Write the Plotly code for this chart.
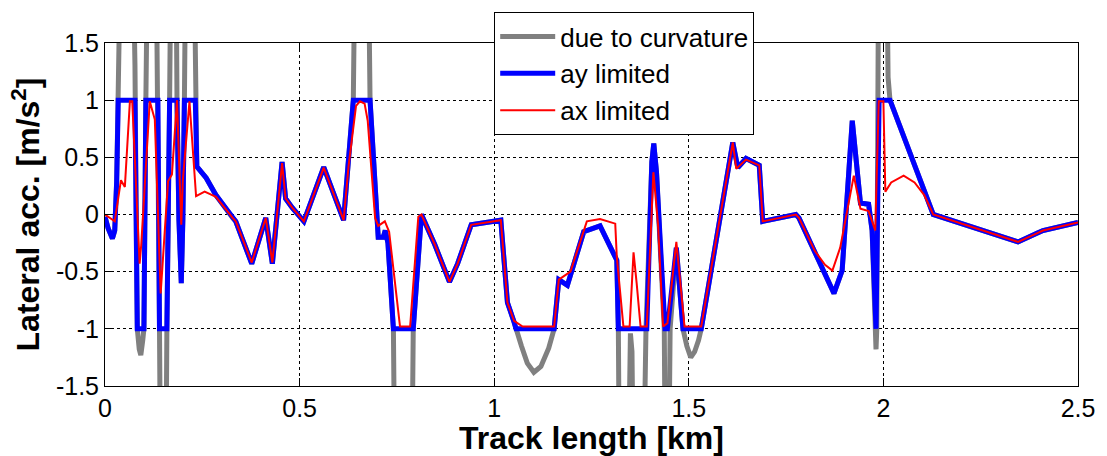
import plotly.graph_objects as go

# Lateral acceleration along the track: (track position [km], lateral acc. [m/s^2])
due_to_curvature = [
    (0.000, -0.02), (0.008, -0.12), (0.019, -0.21), (0.025, -0.14), (0.030, 0.29), (0.034, 1.00),
    (0.037, 1.45), (0.041, 2.50), (0.071, 2.50), (0.077, 1.30), (0.081, -0.37), (0.083, -1.00),
    (0.088, -1.18), (0.092, -1.23), (0.097, -1.10), (0.100, -1.00), (0.105, 1.00), (0.110, 2.50),
    (0.131, 2.50), (0.136, 1.00), (0.140, -1.00), (0.143, -2.50), (0.156, -2.50), (0.159, -1.00),
    (0.161, -0.05), (0.166, 1.00), (0.170, 2.50), (0.182, 2.50), (0.185, 1.00), (0.190, -0.05),
    (0.196, -0.60), (0.200, -0.05), (0.204, 1.00), (0.208, 2.50), (0.228, 2.50), (0.232, 1.00),
    (0.236, 0.42), (0.260, 0.32), (0.285, 0.17), (0.328, -0.03), (0.336, -0.06), (0.377, -0.43),
    (0.413, -0.03), (0.430, -0.43), (0.455, 0.46), (0.464, 0.14), (0.481, 0.06), (0.511, -0.06),
    (0.562, 0.415), (0.613, -0.05), (0.638, 1.00), (0.643, 2.50), (0.676, 2.50), (0.681, 1.00),
    (0.698, -0.08), (0.702, -0.20), (0.715, -0.20), (0.720, -0.14), (0.727, -0.25), (0.741, -1.00),
    (0.745, -2.50), (0.788, -2.50), (0.792, -1.00), (0.813, 0.00), (0.847, -0.26), (0.885, -0.59),
    (0.906, -0.43), (0.941, -0.09), (1.017, -0.05), (1.034, -0.77), (1.051, -0.94), (1.056, -1.00),
    (1.070, -1.15), (1.085, -1.30), (1.102, -1.38), (1.120, -1.33), (1.140, -1.17), (1.154, -1.00),
    (1.166, -0.57), (1.188, -0.62), (1.230, -0.15), (1.272, -0.10), (1.315, -0.40), (1.319, -1.00),
    (1.322, -2.50), (1.344, -2.50), (1.350, -1.04), (1.354, -1.20), (1.358, -2.50), (1.383, -2.50),
    (1.390, -1.00), (1.405, 0.46), (1.410, 0.62), (1.417, 0.37), (1.437, -1.00), (1.440, -2.50),
    (1.448, -2.50), (1.452, -1.00), (1.468, -0.29), (1.485, -1.00), (1.495, -1.15), (1.505, -1.25),
    (1.515, -1.20), (1.525, -1.10), (1.532, -1.00), (1.613, 0.63), (1.626, 0.41), (1.647, 0.49),
    (1.681, 0.43), (1.690, -0.06), (1.775, 0.00), (1.783, -0.03), (1.824, -0.33), (1.873, -0.69),
    (1.894, -0.49), (1.920, 0.82), (1.941, 0.10), (1.962, 0.09), (1.971, -0.14), (1.979, -1.00),
    (1.981, -1.18), (1.983, -1.00), (1.986, 1.00), (1.988, 2.50), (2.008, 2.50), (2.012, 1.20),
    (2.017, 1.00), (2.128, 0.00), (2.346, -0.24), (2.397, -0.16), (2.410, -0.14), (2.500, -0.07),
]

ay_limited = [
    (0.000, -0.02), (0.008, -0.12), (0.019, -0.21), (0.025, -0.14), (0.030, 0.29), (0.034, 1.00),
    (0.077, 1.00), (0.081, -0.37), (0.083, -1.00), (0.100, -1.00), (0.105, 1.00), (0.136, 1.00),
    (0.140, -1.00), (0.159, -1.00), (0.161, -0.05), (0.166, 1.00), (0.185, 1.00), (0.190, -0.05),
    (0.196, -0.60), (0.200, -0.05), (0.204, 1.00), (0.232, 1.00), (0.236, 0.42), (0.260, 0.32),
    (0.285, 0.17), (0.328, -0.03), (0.336, -0.06), (0.377, -0.43), (0.413, -0.03), (0.430, -0.43),
    (0.455, 0.46), (0.464, 0.14), (0.481, 0.06), (0.511, -0.06), (0.562, 0.415), (0.613, -0.05),
    (0.638, 1.00), (0.681, 1.00), (0.698, -0.08), (0.702, -0.20), (0.715, -0.20), (0.720, -0.14),
    (0.727, -0.25), (0.741, -1.00), (0.792, -1.00), (0.813, 0.00), (0.847, -0.26), (0.885, -0.59),
    (0.906, -0.43), (0.941, -0.09), (1.017, -0.05), (1.034, -0.77), (1.051, -0.94), (1.056, -1.00),
    (1.154, -1.00), (1.166, -0.57), (1.188, -0.62), (1.230, -0.15), (1.272, -0.10), (1.315, -0.40),
    (1.319, -1.00), (1.392, -1.00), (1.405, 0.46), (1.410, 0.62), (1.417, 0.37), (1.439, -1.00),
    (1.445, -1.00), (1.468, -0.29), (1.485, -1.00), (1.532, -1.00), (1.613, 0.63), (1.626, 0.41),
    (1.647, 0.49), (1.681, 0.43), (1.690, -0.06), (1.775, 0.00), (1.783, -0.03), (1.824, -0.33),
    (1.873, -0.69), (1.894, -0.49), (1.920, 0.82), (1.941, 0.10), (1.962, 0.09), (1.971, -0.14),
    (1.981, -1.00), (1.989, 1.00), (2.017, 1.00), (2.128, 0.00), (2.346, -0.24), (2.397, -0.16),
    (2.410, -0.14), (2.500, -0.07),
]

ax_limited = [
    (0.000, 0.00), (0.025, -0.06), (0.041, 0.30), (0.051, 0.24), (0.064, 0.99), (0.070, 0.99),
    (0.089, -0.43), (0.093, -0.27), (0.115, 0.99), (0.128, 0.83), (0.143, -0.69), (0.162, 0.29),
    (0.172, 0.35), (0.185, 1.00), (0.196, -0.09), (0.200, 0.30), (0.217, 0.99), (0.230, 0.37),
    (0.234, 0.16), (0.256, 0.20), (0.285, 0.155), (0.328, -0.03), (0.336, -0.06), (0.377, -0.42),
    (0.413, -0.03), (0.430, -0.42), (0.455, 0.45), (0.464, 0.14), (0.481, 0.06), (0.511, -0.06),
    (0.562, 0.41), (0.613, -0.05), (0.626, 0.43), (0.645, 0.95), (0.655, 0.99), (0.667, 0.97),
    (0.675, 0.82), (0.694, -0.03), (0.702, -0.10), (0.719, -0.06), (0.730, -0.15), (0.758, -0.98),
    (0.784, -0.98), (0.805, -0.02), (0.813, 0.00), (0.847, -0.26), (0.885, -0.59), (0.906, -0.43),
    (0.941, -0.09), (1.017, -0.05), (1.034, -0.77), (1.051, -0.93), (1.073, -0.98), (1.154, -0.98),
    (1.166, -0.57), (1.196, -0.50), (1.238, -0.06), (1.272, -0.04), (1.311, -0.08), (1.315, -0.37),
    (1.332, -0.98), (1.348, -0.98), (1.358, -0.33), (1.366, -0.60), (1.376, -0.98), (1.392, -0.98),
    (1.409, 0.37), (1.421, -0.09), (1.434, -0.98), (1.445, -0.95), (1.468, -0.24), (1.489, -0.98),
    (1.532, -0.98), (1.613, 0.63), (1.622, 0.40), (1.647, 0.48), (1.681, 0.43), (1.690, -0.06),
    (1.775, 0.00), (1.783, -0.03), (1.824, -0.32), (1.850, -0.44), (1.869, -0.49), (1.889, -0.29),
    (1.924, 0.34), (1.941, 0.05), (1.962, 0.03), (1.979, -0.14), (1.988, 0.99), (2.000, 0.99),
    (2.005, 0.20), (2.020, 0.28), (2.052, 0.34), (2.080, 0.28), (2.105, 0.17), (2.128, 0.00),
    (2.346, -0.24), (2.397, -0.16), (2.410, -0.14), (2.500, -0.07),
]

x_ticks = [0, 0.5, 1, 1.5, 2, 2.5]
x_tick_labels = ["0", "0.5", "1", "1.5", "2", "2.5"]
y_ticks = [-1.5, -1, -0.5, 0, 0.5, 1, 1.5]
y_tick_labels = ["-1.5", "-1", "-0.5", "0", "0.5", "1", "1.5"]

FONT = "Arial, Liberation Sans, sans-serif"

series = [
    ("due to curvature", due_to_curvature, "#808080", 5),
    ("ay limited", ay_limited, "#0000FF", 5),
    ("ax limited", ax_limited, "#FF0000", 2),
]

fig = go.Figure()
for name, pts, color, width in series:
    xs = [p[0] for p in pts]
    ys = [p[1] for p in pts]
    fig.add_trace(go.Scatter(x=xs, y=ys, mode="lines", name=name,
                             line=dict(color=color, width=width)))

axis_common = dict(
    showline=True, linecolor="#000000", linewidth=1, mirror="ticks",
    ticks="inside", ticklen=8, tickcolor="#000000", tickwidth=1,
    showgrid=True, gridcolor="#000000", gridwidth=1, griddash="3px,3px",
    zeroline=False, tickfont=dict(family=FONT, size=25, color="#000000"),
)

fig.update_layout(
    width=1107, height=456,
    margin=dict(l=105, r=23, t=39, b=68),
    paper_bgcolor="white", plot_bgcolor="white",
    xaxis=dict(range=[0, 2.5], tickvals=x_ticks, ticktext=x_tick_labels,
               title=dict(text="<b>Track length [km]</b>", standoff=0,
                          font=dict(family=FONT, size=32, color="#000000")),
               **axis_common),
    yaxis=dict(range=[-1.5, 1.5], tickvals=y_ticks, ticktext=y_tick_labels,
               title=dict(text="<b>Lateral acc. [m/s<sup>2</sup>]</b>", standoff=6,
                          font=dict(family=FONT, size=32, color="#000000")),
               **axis_common),
    legend=dict(x=0.4, y=1.09, xanchor="left", yanchor="top",
                bgcolor="white", bordercolor="#000000", borderwidth=1,
                font=dict(family=FONT, size=26, color="#000000"),
                itemwidth=55, tracegroupgap=0),
    showlegend=True,
)

fig.write_html("out.html")
